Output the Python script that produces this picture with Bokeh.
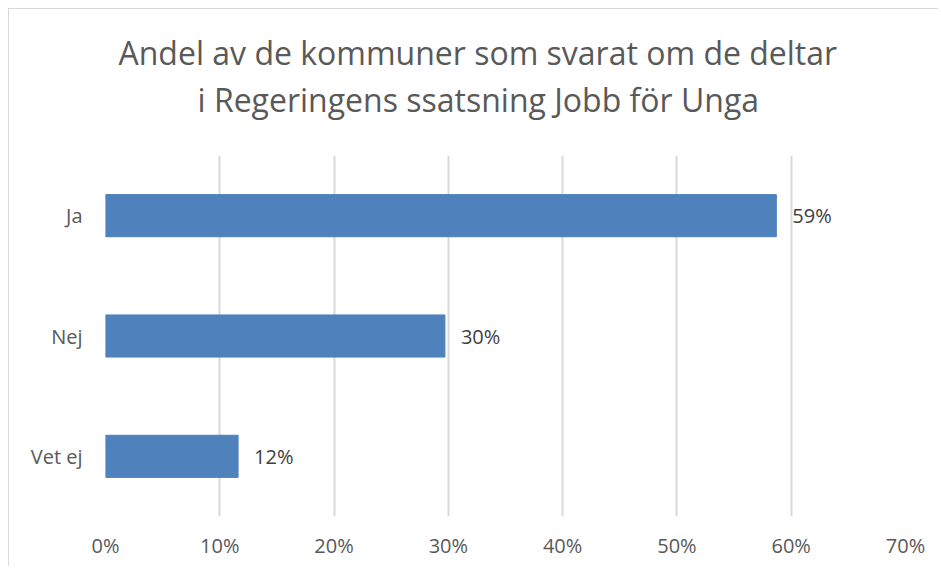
from bokeh.plotting import figure
from bokeh.models import Range1d, FixedTicker, NumeralTickFormatter, Title, ColumnDataSource
from bokeh.core.properties import value
from bokeh.embed import file_html
from bokeh.resources import INLINE

# Data
categories = ["Ja", "Nej", "Vet ej"]
shares = [0.587, 0.297, 0.116]
share_labels = ["59%", "30%", "12%"]
x_ticks = [0.0, 0.1, 0.2, 0.3, 0.4, 0.5, 0.6, 0.7]
title_lines = ["Andel av de kommuner som svarat om de deltar",
               "i Regeringens ssatsning Jobb för Unga"]

FONT = "Open Sans"

p = figure(width=930, height=558, output_backend="svg", toolbar_location=None,
           y_range=list(reversed(categories)), x_range=Range1d(0, 0.7),
           min_border_left=96, min_border_right=34, min_border_top=146, min_border_bottom=51)
p.styles = {"margin-left": "8px", "margin-top": "8px",
            "border-left": "1px solid #d9d9d9", "border-top": "1px solid #d9d9d9"}
p.outline_line_color = None
p.background_fill_color = "white"
p.border_fill_color = "white"

src = ColumnDataSource(dict(cat=categories, v=shares, lab=share_labels))
p.hbar(y="cat", right="v", left=0, height=0.35, source=src,
       fill_color="#4F81BD", line_color="#4F81BD")
p.text(x="v", y="cat", text="lab", source=src, x_offset=16,
       text_align="left", text_baseline="middle",
       text_font=value(FONT), text_font_size="20px", text_color="#404040")

# axes
p.xaxis.ticker = FixedTicker(ticks=x_ticks)
p.xaxis.formatter = NumeralTickFormatter(format="0%")
for ax in (p.xaxis[0], p.yaxis[0]):
    ax.axis_line_color = None
    ax.major_tick_line_color = None
    ax.minor_tick_line_color = None
    ax.major_tick_out = 0
    ax.major_tick_in = 0
    ax.major_label_text_font = FONT
    ax.major_label_text_font_size = "20px"
    ax.major_label_text_color = "#595959"
p.xaxis.major_label_standoff = 15
p.yaxis.major_label_standoff = 23

p.xgrid.grid_line_color = "#d9d9d9"
p.xgrid.grid_line_width = 2
p.ygrid.grid_line_color = None

# title (two lines)
p.title.visible = False
offsets = [13, 92]
standoffs = [-64, 69]
for txt, off, so in reversed(list(zip(title_lines, offsets, standoffs))):
    p.add_layout(Title(text=txt, align="left", offset=off, standoff=so,
                       text_font=FONT, text_font_size="32px", text_font_style="normal",
                       text_color="#595959"), "above")

open("out.html", "w").write(file_html(p, INLINE))
